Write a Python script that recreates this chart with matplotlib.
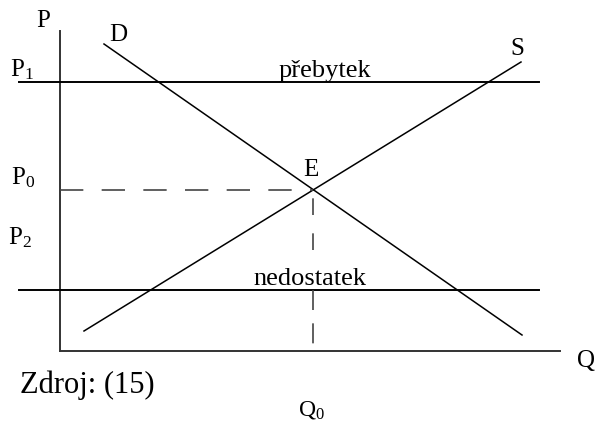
import matplotlib
matplotlib.use('Agg')
import matplotlib.pyplot as plt

plt.rcParams['font.family'] = ['Liberation Serif', 'DejaVu Serif']
plt.rcParams['mathtext.fontset'] = 'custom'
plt.rcParams['mathtext.rm'] = 'Liberation Serif'
plt.rcParams['mathtext.it'] = 'Liberation Serif'

# Schematic supply / demand diagram (arbitrary units: Q right, P up)
demand_q = [44, 462]
demand_p = [307, 16]
supply_q = [24, 461]
supply_p = [20, 289]

p1 = 269      # price above equilibrium -> surplus
p2 = 61       # price below equilibrium -> shortage
p0 = 161      # equilibrium price
q0 = 253      # equilibrium quantity
line_q = [-41, 479]   # extent of the horizontal price lines

axis_q_max = 500
axis_p_max = 320

fig = plt.figure(figsize=(5.95, 4.22), dpi=100)
ax = fig.add_axes([0, 0, 1, 1])
ax.set_xlim(-60, 535)
ax.set_ylim(-71, 351)
ax.axis('off')

# axes of the diagram
ax.plot([0, 0], [0, axis_p_max], color='#333333', lw=1.4)
ax.plot([0, axis_q_max], [0, 0], color='#333333', lw=1.4)

# demand and supply
ax.plot(demand_q, demand_p, color='black', lw=1.1)
ax.plot(supply_q, supply_p, color='black', lw=1.1)

# price lines
ax.plot(line_q, [p1, p1], color='black', lw=1.4)
ax.plot(line_q, [p2, p2], color='black', lw=1.4)

# equilibrium guides (vertical one skips the "nedostatek" label)
ax.plot([0, q0], [p0, p0], color='#444444', lw=1.2, dashes=(14, 11))
ax.plot([q0, q0], [p0, p2 + 25], color='#444444', lw=1.2, dashes=(0, 5, 10, 6))
ax.plot([q0, q0], [p2, 0], color='#444444', lw=1.2, dashes=(12, 8))

fs = 18
ax.text(-17, 330, 'P', fontsize=fs, ha='center', va='center')
ax.text(-38, 281, r'$\mathrm{P}_1$', fontsize=fs, ha='center', va='center')
ax.text(-37, 173, r'$\mathrm{P}_0$', fontsize=fs, ha='center', va='center')
ax.text(-40, 113, r'$\mathrm{P}_2$', fontsize=fs, ha='center', va='center')
ax.text(58, 316, 'D', fontsize=fs, ha='center', va='center')
ax.text(457, 302, 'S', fontsize=fs, ha='center', va='center')
ax.text(251, 181, 'E', fontsize=fs, ha='center', va='center')
ax.text(526, -10, 'Q', fontsize=fs, ha='center', va='center')
ax.text(251, -59, r'$\mathrm{Q}_0$', fontsize=17, ha='center', va='center')

ax.text(265, 274, 'přebytek', fontsize=19, ha='center', va='baseline')
ax.text(250, 66, 'nedostatek', fontsize=19, ha='center', va='baseline')

ax.text(-40, -34, 'Zdroj: (15)', fontsize=22, ha='left', va='center')

fig.savefig('out.png', dpi=100)
